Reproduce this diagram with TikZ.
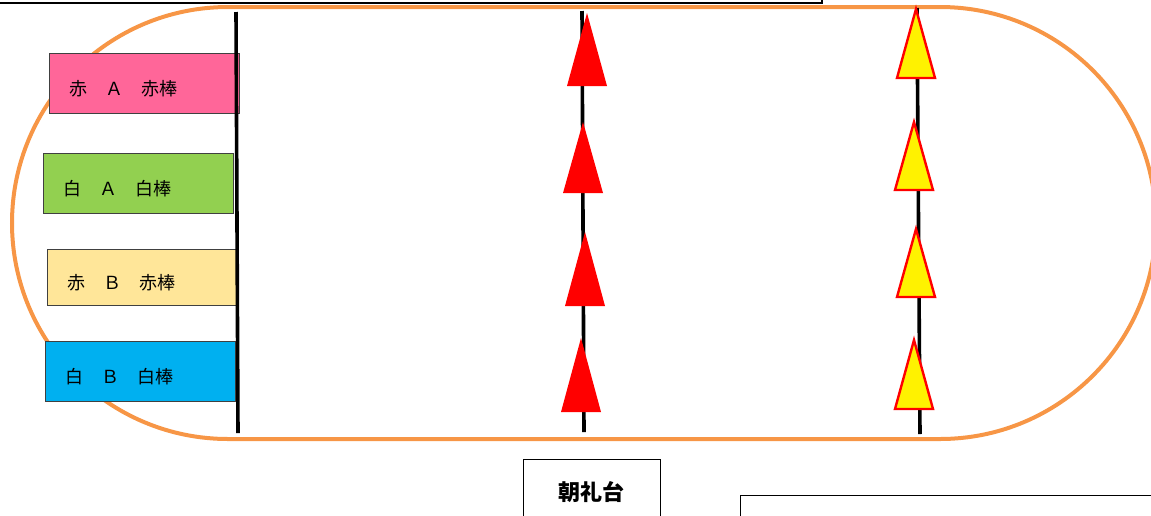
\documentclass[tikz,border=0pt]{standalone}
\usepackage{fontspec}
\setmainfont{Noto Sans CJK JP}
\definecolor{track}{HTML}{F79646}
\definecolor{pinkc}{HTML}{FF6699}
\definecolor{greenc}{HTML}{92D050}
\definecolor{yellowc}{HTML}{FFE699}
\definecolor{bluec}{HTML}{00B0F0}
\definecolor{edge}{HTML}{404040}
\tikzset{
  teambox/.style={draw=edge, line width=1pt, minimum height=60pt, text width=150pt,
    inner xsep=20pt, align=left, font=\fontsize{18pt}{20pt}\selectfont, anchor=north west,
    text height=25pt, text depth=2pt},
  pole/.style={line width=3.6pt, black},
  redcone/.style={fill=red, draw=none},
  yelcone/.style={fill=yellow, draw=red, line width=2.4pt, line join=miter},
  plainbox/.style={draw=black, line width=1.3pt}
}
\begin{document}
\begin{tikzpicture}[x=1pt, y=-1pt]
\useasboundingbox (0,0) rectangle (1151,515);
% track
\draw[track, line width=4pt, rounded corners=216pt] (12,7) rectangle (1156,439);
% top box
\draw[plainbox] (-10,-20) rectangle (822,3);
% team boxes
\node[teambox, fill=pinkc] (b1) at (49,53) {赤　Ａ　赤棒};
\node[teambox, fill=greenc] (b2) at (43,153) {白　Ａ　白棒};
\node[teambox, fill=yellowc, minimum height=56pt] (b3) at (47,249) {赤　Ｂ　赤棒};
\node[teambox, fill=bluec] (b4) at (45,341) {白　Ｂ　白棒};
% poles
\draw[pole] (236,12) -- (238,433);
\draw[pole] (582,11) -- (584,432);
\draw[pole] (917,8) -- (920,434);
% red cones
\fill[redcone] (587,13) -- (607,86) -- (567,86) -- cycle;
\fill[redcone] (583,122) -- (603,193) -- (563,193) -- cycle;
\fill[redcone] (585,232) -- (605,306) -- (565,306) -- cycle;
\fill[redcone] (581,338) -- (601,412) -- (561,412) -- cycle;
% yellow cones
\filldraw[yelcone] (916,9) -- (935,78) -- (897,78) -- cycle;
\filldraw[yelcone] (914,122) -- (933,190) -- (895,190) -- cycle;
\filldraw[yelcone] (916,229) -- (935,297) -- (897,297) -- cycle;
\filldraw[yelcone] (914,340) -- (933,409) -- (895,409) -- cycle;
% stage
\draw[plainbox, line width=1pt] (523,459) rectangle (660,540);
\node[font=\fontsize{22pt}{24pt}\selectfont\bfseries] (stage) at (591,492) {朝礼台};
% bottom right box
\draw[plainbox, line width=1pt] (740,495) rectangle (1170,540);
\end{tikzpicture}
\end{document}
